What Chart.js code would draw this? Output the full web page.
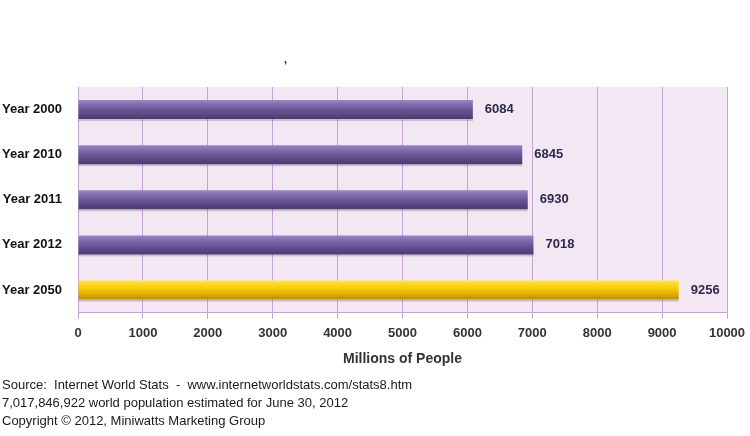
<!DOCTYPE html>
<html>
<head>
<meta charset="utf-8">
<script src="https://cdn.jsdelivr.net/npm/chart.js@4"></script>
<style>
  html, body { margin: 0; padding: 0; background: #fff; }
  #wrap { width: 750px; height: 436px; position: relative; }
</style>
</head>
<body>
<div id="wrap"><canvas id="chart"></canvas></div>
<script>
const categories = ['Year 2000', 'Year 2010', 'Year 2011', 'Year 2012', 'Year 2050'];
const population = [6084, 6845, 6930, 7018, 9256];
const xTicks = [0, 1000, 2000, 3000, 4000, 5000, 6000, 7000, 8000, 9000, 10000];
const footerLines = [
    'Source:  Internet World Stats  -  www.internetworldstats.com/stats8.htm',
    '7,017,846,922 world population estimated for June 30, 2012',
    'Copyright \u00A9 2012, Miniwatts Marketing Group'
];

const FONT = '"Liberation Sans", Arial, sans-serif';

const plotBg = {
    id: 'plotBg',
    beforeDraw(chart) {
        const a = chart.chartArea;
        const ctx = chart.ctx;
        ctx.save();
        ctx.fillStyle = '#f3e7f3';
        ctx.fillRect(a.left, a.top, a.right - a.left, a.bottom - a.top);
        ctx.restore();
    }
};

// shade each bar across its thickness, once the bars have their place
const barShade = {
    id: 'barShade',
    beforeDatasetsDraw(chart) {
        const ctx = chart.ctx;
        const meta = chart.getDatasetMeta(0);
        meta.data.forEach((bar, i) => {
            const top = bar.y - bar.height / 2;
            const g = ctx.createLinearGradient(0, top, 0, top + bar.height);
            if (i === categories.length - 1) {
                g.addColorStop(0, '#ffe24e');
                g.addColorStop(0.45, '#f5c800');
                g.addColorStop(1, '#c28e00');
            } else {
                g.addColorStop(0, '#9c84c4');
                g.addColorStop(0.45, '#6f5a9c');
                g.addColorStop(1, '#4a3970');
            }
            bar.options.backgroundColor = g;
            // soft shadow under the bar
            ctx.save();
            ctx.fillStyle = 'rgba(120,120,120,0.35)';
            ctx.fillRect(bar.base, top + bar.height, bar.x - bar.base, 2);
            ctx.restore();
        });
    }
};

const valueLabels = {
    id: 'valueLabels',
    afterDatasetsDraw(chart) {
        const ctx = chart.ctx;
        const meta = chart.getDatasetMeta(0);
        ctx.save();
        ctx.font = 'bold 13px ' + FONT;
        ctx.fillStyle = '#2e2a4c';
        ctx.textBaseline = 'middle';
        ctx.textAlign = 'left';
        meta.data.forEach((bar, i) => {
            ctx.fillText(String(population[i]), bar.x + 12, bar.y);
        });
        ctx.restore();
    }
};

const footer = {
    id: 'footer',
    afterDraw(chart) {
        const ctx = chart.ctx;
        ctx.save();
        ctx.font = '13px ' + FONT;
        ctx.fillStyle = '#1a1a1a';
        ctx.textBaseline = 'middle';
        footerLines.forEach((line, i) => {
            ctx.fillText(line, 2, 385 + i * 18);
        });
        ctx.font = 'bold 11px ' + FONT;
        ctx.fillText(',', 284, 60);
        ctx.restore();
    }
};

new Chart(document.getElementById('chart'), {
    type: 'bar',
    data: {
        labels: categories,
        datasets: [{
            data: population,
            backgroundColor: ['#6f5a9c', '#6f5a9c', '#6f5a9c', '#6f5a9c', '#f5c800'],
            borderWidth: 0,
            barPercentage: 0.42,
            categoryPercentage: 1
        }]
    },
    options: {
        indexAxis: 'y',
        responsive: true,
        maintainAspectRatio: false,
        animation: false,
        layout: { padding: { top: 87, right: 23, bottom: 64, left: 0 } },
        plugins: {
            legend: { display: false },
            tooltip: { enabled: false }
        },
        scales: {
            x: {
                min: 0,
                max: 10000,
                afterBuildTicks(scale) {
                    scale.ticks = xTicks.map(v => ({ value: v }));
                },
                afterFit(scale) {
                    // let the last tick label hang past the plot like the original
                    scale.paddingRight = 0;
                    scale.paddingLeft = 0;
                },
                grid: {
                    color: '#c6a2d6',
                    lineWidth: 1,
                    tickLength: 6,
                    drawTicks: true
                },
                border: { color: '#c6a2d6' },
                ticks: {
                    padding: 7,
                    maxRotation: 0,
                    color: '#333',
                    callback: v => String(v),
                    font: { family: FONT, size: 13, weight: 'bold' }
                },
                title: {
                    display: true,
                    text: 'Millions of People',
                    color: '#333',
                    padding: { top: 3, bottom: 4 },
                    font: { family: FONT, size: 14, weight: 'bold' }
                }
            },
            y: {
                afterFit(scale) { scale.width = 78; },
                grid: { display: false, drawTicks: true, tickLength: 4 },
                border: { color: '#c6a2d6' },
                ticks: {
                    padding: 12,
                    color: '#111',
                    font: { family: FONT, size: 13, weight: 'bold' }
                }
            }
        }
    },
    plugins: [plotBg, barShade, valueLabels, footer]
});
</script>
</body>
</html>
